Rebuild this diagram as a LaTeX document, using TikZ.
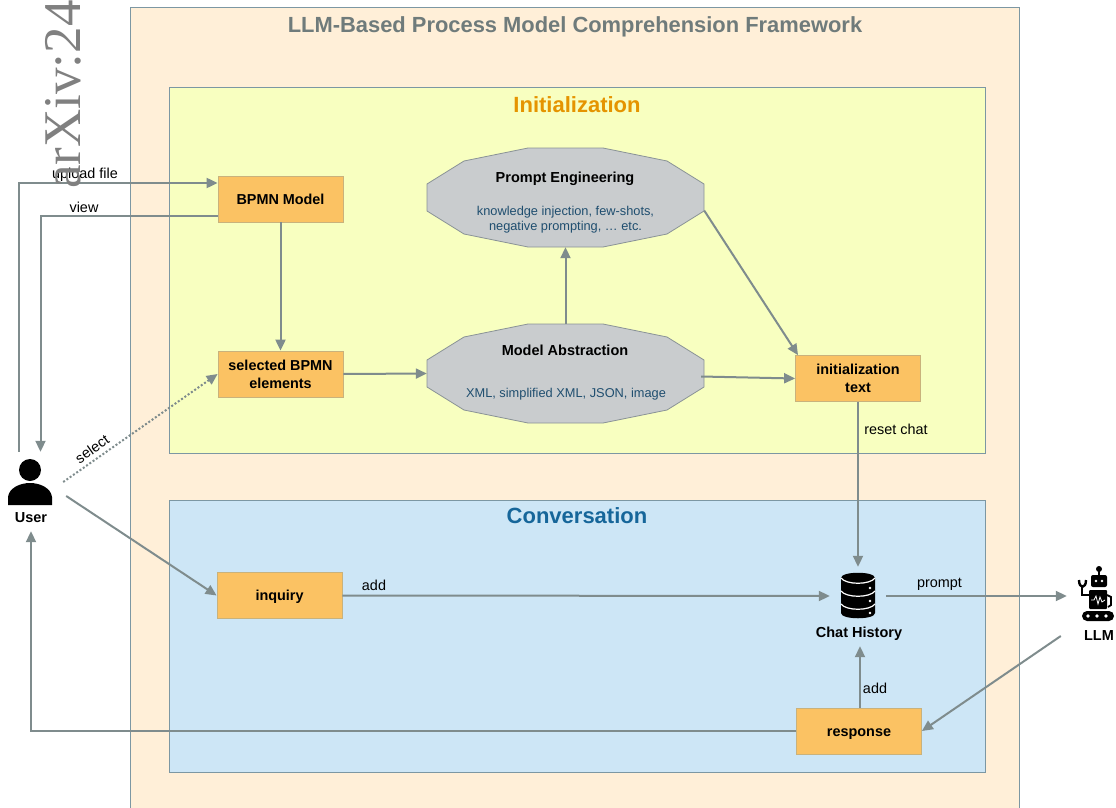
\documentclass[tikz,border=0pt]{standalone}
\usepackage{fontspec}
\setmainfont{Liberation Sans}
\newfontfamily\stampfont{Liberation Serif}
\usetikzlibrary{arrows.meta}
\definecolor{framefill}{HTML}{FFEFD8}
\definecolor{frameline}{HTML}{7C97A3}
\definecolor{initfill}{HTML}{F8FFC0}
\definecolor{convfill}{HTML}{CDE6F6}
\definecolor{boxfill}{HTML}{FBC263}
\definecolor{boxline}{HTML}{C9B27C}
\definecolor{polyfill}{HTML}{C9CCCE}
\definecolor{polyline}{HTML}{8A9396}
\definecolor{linkgray}{HTML}{7F8C8D}
\definecolor{titlegray}{HTML}{6F7B7B}
\definecolor{initorange}{HTML}{E59400}
\definecolor{convblue}{HTML}{16669A}
\definecolor{polytext}{HTML}{1F4E6F}
\tikzset{
        link/.style={draw=linkgray,line width=2pt,-{Triangle[length=11pt,width=10pt]}},
        panel/.style={draw=frameline,line width=.8pt},
        modelbox/.style={draw=boxline,fill=boxfill,line width=.8pt,minimum width=125pt,minimum height=46pt,inner sep=0pt,align=center,font=\fontsize{14.4}{18}\selectfont\bfseries},
        onelinebox/.style={modelbox,text height=10pt,text depth=0pt},
        polynode/.style={minimum width=277pt,minimum height=99pt,inner sep=0pt},
        spot/.style={inner sep=0pt},
        caption/.style={inner sep=0pt,font=\fontsize{14.4}{16}\selectfont},
        iconname/.style={inner sep=0pt,font=\fontsize{14.5}{16}\selectfont\bfseries},
        dodeca/.pic={
                \draw[fill=polyfill,draw=polyline,line width=.8pt] (-37.5,-49.5) -- (37.5,-49.5) -- (101.5,-36.5) -- (138.5,-13.5) -- (138.5,13.5) -- (101.5,36.5) -- (37.5,49.5) -- (-37.5,49.5) -- (-101.5,36.5) -- (-138.5,13.5) -- (-138.5,-13.5) -- (-101.5,-36.5) -- cycle;
        },
}
\begin{document}
\begin{tikzpicture}[x=1pt,y=-1pt]
        \useasboundingbox (0,0) rectangle (1116,808);
        \clip (0,0) rectangle (1116,808);
        \draw[panel,fill=framefill] (130,7.7) rectangle (1019,830);
        \draw[panel,fill=initfill] (169,87) rectangle (985,453);
        \draw[panel,fill=convfill] (169,500) rectangle (985,772);
        \node[spot,font=\fontsize{21.9}{24}\selectfont\bfseries,text=titlegray] (frametitle) at (575,27) {LLM-Based Process Model Comprehension Framework};
        \node[spot,font=\fontsize{22}{24}\selectfont\bfseries,text=initorange] (inittitle) at (577,105) {Initialization};
        \node[spot,font=\fontsize{22}{24}\selectfont\bfseries,text=convblue] (convtitle) at (577,516) {Conversation};

        \pic at (565.5,197.5) {dodeca};
        \pic at (565.5,373.5) {dodeca};
        \node[polynode] (pe) at (565.5,197.5) {};
        \node[polynode] (ma) at (565.5,373.5) {};
        \node[iconname] (petitle) at (565,179) {Prompt Engineering};
        \node[caption,font=\fontsize{12.8}{15.5}\selectfont,text=polytext,align=center] (petext) at (565.5,219.5) {knowledge injection, few-shots,\\negative prompting, … etc.};
        \node[iconname] (matitle) at (565,350) {Model Abstraction};
        \node[caption,font=\fontsize{12.8}{16}\selectfont,text=polytext] (matext) at (566,394) {XML, simplified XML, JSON, image};

        \node[onelinebox] (bpmn) at (280.5,199) {BPMN Model};
        \node[modelbox] (selected) at (280.5,374) {selected BPMN\\elements};
        \node[modelbox] (init) at (858,378.5) {initialization\\text};
        \node[onelinebox] (inquiry) at (279.5,595.5) {inquiry};
        \node[onelinebox] (response) at (859,731) {response};

        \node[spot,minimum width=66pt,minimum height=60pt] (user) at (30,482) {};
        \node[iconname,minimum height=26pt] (username) at (31,518) {User};
        \node[spot,minimum width=56pt,minimum height=58pt] (chat) at (858,596) {};
        \node[iconname,minimum height=24pt] (chatname) at (859,634) {Chat History};
        \node[spot,minimum width=60pt,minimum height=50pt] (llm) at (1097,596) {};
        \node[iconname,minimum width=76pt] (llmname) at (1099,636) {LLM};

        % user
        \fill (30,470) circle (11);
        \fill (8,505) -- (8,497) .. controls (9,488) and (20,483) .. (30,483) .. controls (40,483) and (51,488) .. (52,497) -- (52,505) -- cycle;
        % chat history
        \fill (841,578) .. controls (841,571) and (875,571) .. (875,578) -- (875,613) .. controls (875,620) and (841,620) .. (841,613) -- cycle;
        \foreach \y in {578,591,604}{
                \draw[white,line width=1.2pt] (841,\y) .. controls (846,\y+7) and (870,\y+7) .. (875,\y);
        }
        \fill[white] (870,588) circle (1.4) (870,601) circle (1.4) (870,613) circle (1.4);
        % llm
        \fill (1099,569) circle (3);
        \draw[line width=1.5pt] (1099,569) -- (1099,576);
        \fill[rounded corners=2pt] (1091,575) rectangle (1107,587);
        \fill[white] (1096,581) circle (1.3) (1102,581) circle (1.3);
        \fill[rounded corners=1pt] (1089,590) rectangle (1107,609);
        \draw[white,line width=.8pt] (1091,600) -- (1094,600) -- (1096,596) -- (1098,604) -- (1100,597) -- (1102,602) -- (1105,600);
        \draw[line width=2pt] (1089,595) -- (1082,595) -- (1082,587);
        \draw[line width=2.4pt] (1079,580) .. controls (1079,589) and (1086,589) .. (1086,580);
        \draw[line width=1.8pt] (1107,595) -- (1111,597) -- (1111,605) -- (1108,607);
        \fill[rounded corners=5pt] (1082,611) rectangle (1114,621);
        \fill[white] (1088,616) circle (1.8) (1097,616) circle (1.8) (1106,616) circle (1.8);

        % connectors
        \draw[link] ([xshift=-11pt]user.north) |- ([yshift=16pt]bpmn.west);
        \draw[link] ([yshift=-17pt]bpmn.west) -| ([xshift=10.5pt]user.north);
        \draw[draw=linkgray,line width=2pt,dotted,-{Triangle[length=11pt,width=10pt]}] (user.east) -- (selected.west);
        \draw[link] ([shift={(3pt,-14pt)}]user.east) -- (inquiry.west);
        \draw[link] (bpmn.south) -- (selected.north);
        \draw[link] (selected.east) -- (ma.west);
        \draw[link] (ma.north) -- (pe.south);
        \draw[link] ([yshift=-13pt]pe.east) -- ([xshift=-60pt]init.north);
        \draw[link] ([shift={(-3pt,-3pt)}]ma.east) -- (init.west);
        \draw[link] (init.south) -- (chat.north);
        \draw[link] (inquiry.east) -- (chat.west);
        \draw[link] (chat.east) -- (llm.west);
        \draw[link] (llmname.west) -- (response.east);
        \draw[link] ([xshift=1pt]response.north) -- ([xshift=1pt]chatname.south);
        \draw[link] (response.west) -| (username.south);

        \node[caption] (uploadlabel) at (85,175) {upload file};
        \node[caption] (viewlabel) at (84,207) {view};
        \node[caption,rotate=35] (selectlabel) at (92,449) {select};
        \node[caption] (addlabel) at (374,585.5) {add};
        \node[caption] (resetlabel) at (896,429.5) {reset chat};
        \node[caption] (promptlabel) at (939.5,584) {prompt};
        \node[caption] (addlabeltwo) at (875,688.5) {add};

        \node[inner sep=0pt,anchor=base west,rotate=90,text=gray,font=\fontsize{53}{54}\stampfont] (stamp) at (80,189) {arXiv:24};
\end{tikzpicture}
\end{document}
